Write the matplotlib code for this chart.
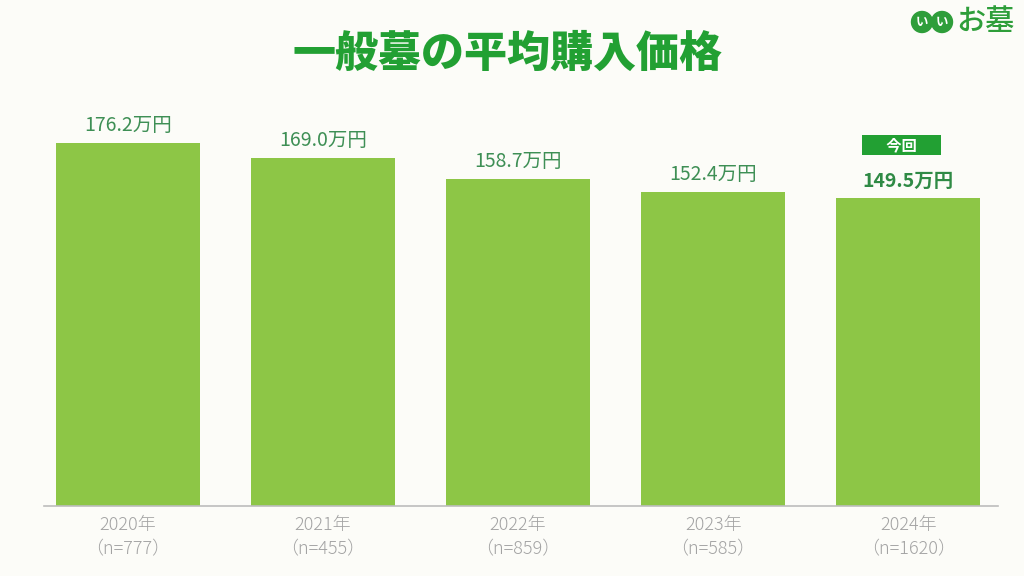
import matplotlib
matplotlib.use("Agg")
import matplotlib.pyplot as plt
import numpy as np
from matplotlib.patches import Ellipse

plt.rcParams['font.family'] = ['Noto Sans CJK JP', 'DejaVu Sans']

years = ['2020年', '2021年', '2022年', '2023年', '2024年']
samples = ['（n=777）', '（n=455）', '（n=859）', '（n=585）', '（n=1620）']
prices = [176.2, 169.0, 158.7, 152.4, 149.5]

bg = '#FCFCF8'
bar_color = '#8DC646'
dark_green = '#22A033'
label_green = '#3E8F55'
gray = '#A3A3A3'

fig = plt.figure(figsize=(10.24, 5.76), dpi=100, facecolor=bg)
ax = fig.add_axes([44 / 1024, 70 / 576, 954 / 1024, 412 / 576])
ax.set_facecolor(bg)

x = np.arange(len(years))
bars = ax.bar(x, prices, width=0.74, color=bar_color, zorder=2)

ax.set_xlim(-0.43, 4.46)
ax.set_ylim(0, 200)

for s in ['top', 'right', 'left']:
    ax.spines[s].set_visible(False)
ax.spines['bottom'].set_color('#BDBDBD')
ax.spines['bottom'].set_linewidth(1.2)
ax.set_yticks([])
ax.set_xticks(x)
ax.set_xticklabels([y + '\n' + n for y, n in zip(years, samples)],
                   color=gray, fontsize=13, linespacing=1.45, fontweight='light')
ax.tick_params(axis='x', length=0, pad=7)

# value labels
for i, v in enumerate(prices):
    last = i == len(prices) - 1
    ax.annotate(f'{v:.1f}万円', (x[i], v), xytext=(0, 5), textcoords='offset points',
                ha='center', va='bottom', fontsize=14,
                color='#2F8A45' if last else label_green,
                fontweight='bold' if last else 'normal')

# "今回" badge above the latest bar
ax.annotate('　  今回  　', (x[-1], prices[-1]), xytext=(-5, 38), textcoords='offset points',
            ha='center', va='center', fontsize=11, color='white', fontweight='bold',
            bbox=dict(boxstyle='square,pad=0.12', fc=dark_green, ec='none'))

# title
fig.text(0.496, 0.907, '一般墓の平均購入価格', ha='center', va='center',
         fontsize=31, fontweight='black', color=dark_green)

# logo
logo_green = '#2E9E3A'
for cx in (922, 942):
    fig.patches.append(Ellipse((cx / 1024, 1 - 22 / 576), 21 / 1024, 21 / 576,
                               transform=fig.transFigure, color=logo_green))
    fig.text(cx / 1024, 1 - 22.5 / 576, 'い', ha='center', va='center',
             fontsize=9, color='white', fontweight='bold')
fig.text(985 / 1024, 1 - 22 / 576, 'お墓', ha='center', va='center',
         fontsize=21, color=logo_green, fontweight='medium')

fig.savefig('out.png', dpi=100, facecolor=bg)
